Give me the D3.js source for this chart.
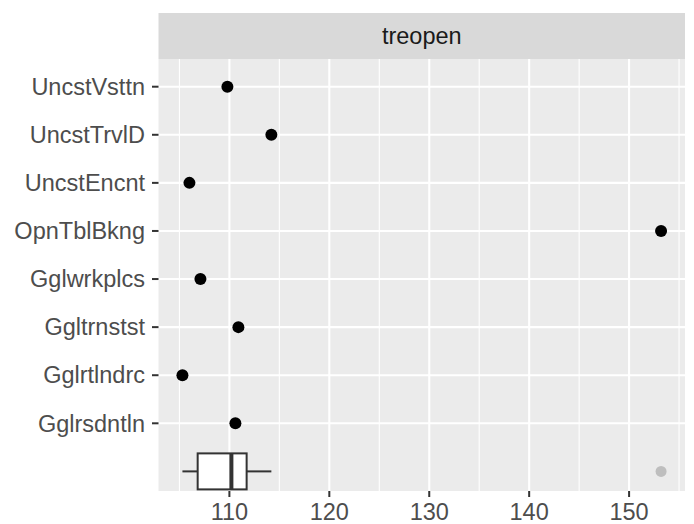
<!DOCTYPE html>
<html>
<head>
<meta charset="utf-8">
<script src="https://cdn.jsdelivr.net/npm/d3@7"></script>
<style>
  html, body { margin: 0; padding: 0; background: #ffffff; }
  svg { display: block; }
  text { font-family: "Liberation Sans", Arial, Helvetica, sans-serif; }
</style>
</head>
<body>
<svg id="chart" width="694" height="524"></svg>
<script>
// ---- data ----
const categories = ["UncstVsttn", "UncstTrvlD", "UncstEncnt", "OpnTblBkng",
                    "Gglwrkplcs", "Ggltrnstst", "Gglrtlndrc", "Gglrsdntln"];
const values = [109.8, 114.2, 106.0, 153.2, 107.1, 110.9, 105.3, 110.6];
const facetLabel = "treopen";
const xTicks = [110, 120, 130, 140, 150];
const xMinorTicks = [105, 115, 125, 135, 145, 155];

// ---- layout ----
const W = 694, H = 524;
const panel = { left: 158.5, right: 685, top: 59, bottom: 491 };
const strip = { top: 13, bottom: 59 };
const FS = 23.5;

const svg = d3.select("#chart");

// x scale with 5% expansion like ggplot
const ext = d3.extent(values);
const pad = (ext[1] - ext[0]) * 0.05;
const x = d3.scaleLinear().domain([ext[0] - pad, ext[1] + pad])
  .range([panel.left, panel.right]);

const y = d3.scalePoint().domain(categories).range([86.7, 423.3]);
const boxY = y(categories[categories.length - 1]) + y.step();

// panel background
svg.append("rect")
  .attr("x", panel.left).attr("y", panel.top)
  .attr("width", panel.right - panel.left).attr("height", panel.bottom - panel.top)
  .attr("fill", "#ebebeb");

// grid
const g = svg.append("g");
g.selectAll(".minor").data(xMinorTicks.filter(d => x(d) >= panel.left && x(d) <= panel.right))
  .enter().append("line")
  .attr("x1", d => x(d)).attr("x2", d => x(d))
  .attr("y1", panel.top).attr("y2", panel.bottom)
  .attr("stroke", "#ffffff").attr("stroke-width", 1.1);
g.selectAll(".major").data(xTicks).enter().append("line")
  .attr("x1", d => x(d)).attr("x2", d => x(d))
  .attr("y1", panel.top).attr("y2", panel.bottom)
  .attr("stroke", "#ffffff").attr("stroke-width", 2.1);
g.selectAll(".hmajor").data(categories).enter().append("line")
  .attr("x1", panel.left).attr("x2", panel.right)
  .attr("y1", d => y(d)).attr("y2", d => y(d))
  .attr("stroke", "#ffffff").attr("stroke-width", 2.1);

// strip
svg.append("rect")
  .attr("x", panel.left).attr("y", strip.top)
  .attr("width", panel.right - panel.left).attr("height", strip.bottom - strip.top)
  .attr("fill", "#d9d9d9");
svg.append("text")
  .attr("x", (panel.left + panel.right) / 2).attr("y", (strip.top + strip.bottom) / 2)
  .attr("dy", "0.35em").attr("text-anchor", "middle")
  .attr("font-size", FS).attr("fill", "#1a1a1a")
  .text(facetLabel);

// boxplot (statistics computed from the values)
const sorted = values.slice().sort(d3.ascending);
const q1 = d3.quantile(sorted, 0.25), med = d3.quantile(sorted, 0.5), q3 = d3.quantile(sorted, 0.75);
const iqr = q3 - q1;
const inside = sorted.filter(v => v >= q1 - 1.5 * iqr && v <= q3 + 1.5 * iqr);
const wLo = d3.min(inside), wHi = d3.max(inside);
const outliers = sorted.filter(v => v < q1 - 1.5 * iqr || v > q3 + 1.5 * iqr);
const halfH = 18;
const bx = svg.append("g");
bx.append("line").attr("x1", x(wLo)).attr("x2", x(q1)).attr("y1", boxY).attr("y2", boxY)
  .attr("stroke", "#333333").attr("stroke-width", 2);
bx.append("line").attr("x1", x(q3)).attr("x2", x(wHi)).attr("y1", boxY).attr("y2", boxY)
  .attr("stroke", "#333333").attr("stroke-width", 2);
bx.append("rect").attr("x", x(q1)).attr("y", boxY - halfH)
  .attr("width", x(q3) - x(q1)).attr("height", halfH * 2)
  .attr("fill", "#ffffff").attr("stroke", "#333333").attr("stroke-width", 2);
bx.append("line").attr("x1", x(med)).attr("x2", x(med))
  .attr("y1", boxY - halfH).attr("y2", boxY + halfH)
  .attr("stroke", "#333333").attr("stroke-width", 4);
bx.selectAll(".out").data(outliers).enter().append("circle")
  .attr("cx", d => x(d)).attr("cy", boxY).attr("r", 5.5)
  .attr("fill", "#bebebe");

// points
svg.selectAll(".pt").data(categories).enter().append("circle")
  .attr("cx", (d, i) => x(values[i])).attr("cy", d => y(d)).attr("r", 6)
  .attr("fill", "#000000");

// x axis
const xAxis = svg.append("g");
xAxis.selectAll(".tk").data(xTicks).enter().append("line")
  .attr("x1", d => x(d)).attr("x2", d => x(d))
  .attr("y1", panel.bottom).attr("y2", panel.bottom + 6)
  .attr("stroke", "#333333").attr("stroke-width", 2);
xAxis.selectAll(".lb").data(xTicks).enter().append("text")
  .attr("x", d => x(d)).attr("y", 519.5)
  .attr("text-anchor", "middle").attr("font-size", FS).attr("fill", "#4d4d4d")
  .text(d => d);

// y axis
const yAxis = svg.append("g");
yAxis.selectAll(".tk").data(categories).enter().append("line")
  .attr("x1", panel.left - 6.5).attr("x2", panel.left)
  .attr("y1", d => y(d)).attr("y2", d => y(d))
  .attr("stroke", "#333333").attr("stroke-width", 2);
yAxis.selectAll(".lb").data(categories).enter().append("text")
  .attr("x", 145).attr("y", d => y(d)).attr("dy", "0.35em")
  .attr("text-anchor", "end").attr("font-size", FS).attr("fill", "#4d4d4d")
  .text(d => d);
</script>
</body>
</html>
